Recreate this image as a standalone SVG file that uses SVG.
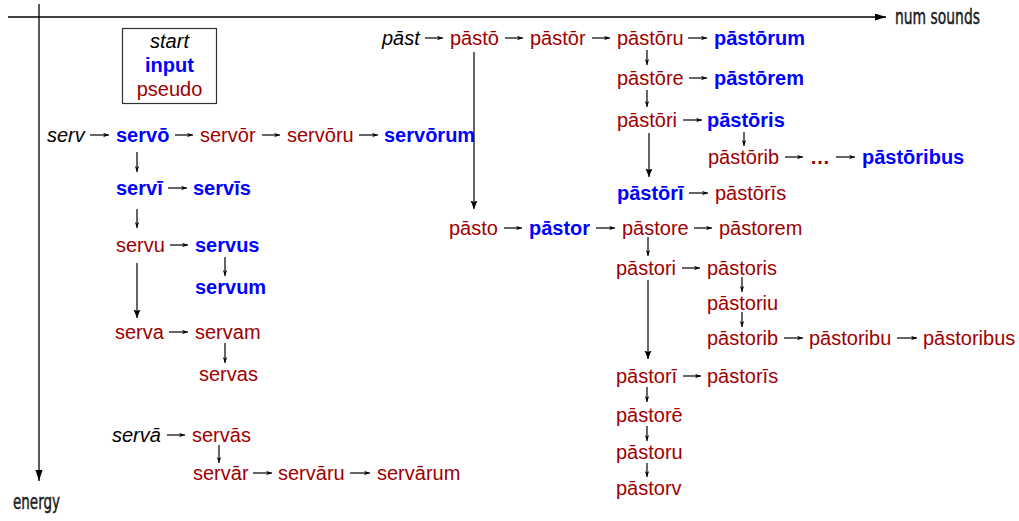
<svg xmlns="http://www.w3.org/2000/svg" width="1019" height="521" viewBox="0 0 1019 521">
<style>
text{font-family:"Liberation Sans",Arial,sans-serif;font-size:20px}
.s{font-style:italic;fill:#000}
.i{font-weight:bold;fill:#0000ff}
.p{fill:#a00000}
.bp{font-weight:bold;fill:#a00000}
.ax{font-family:"Liberation Sans Narrow","DejaVu Sans Condensed",sans-serif;font-size:22px;fill:#1a1a1a;stroke:#1a1a1a;stroke-width:0.45}
.c line{stroke:#000;stroke-width:1.2}
.h{marker-end:url(#sm)}
.v{marker-end:url(#sm)}
.lv{marker-end:url(#lg)}
</style>
<defs>
<marker id="sm" markerUnits="userSpaceOnUse" markerWidth="7" markerHeight="6" refX="6" refY="2.5" orient="auto"><path d="M0,0.3 L6,2.5 L0,4.7 L1.8,2.5 z" fill="#000"/></marker>
<marker id="lg" markerUnits="userSpaceOnUse" markerWidth="9" markerHeight="8" refX="8.5" refY="3.5" orient="auto"><path d="M0,0 L8.5,3.5 L0,7 L1.5,3.5 z" fill="#000"/></marker>
<marker id="axh" markerUnits="userSpaceOnUse" markerWidth="12" markerHeight="8" refX="11" refY="3.5" orient="auto"><path d="M0,0 L11,3.5 L0,7 z" fill="#000"/></marker>
</defs>
<g id="axes">
<line x1="8" y1="17" x2="886" y2="17" stroke="#000" stroke-width="1.3" marker-end="url(#axh)"/>
<line x1="39" y1="4" x2="39" y2="481" stroke="#000" stroke-width="1.3" marker-end="url(#axh)"/>
<text class="ax" x="895" y="24" textLength="85" lengthAdjust="spacingAndGlyphs">num sounds</text>
<text class="ax" x="13" y="509" textLength="47" lengthAdjust="spacingAndGlyphs">energy</text>
</g>
<g id="legend">
<rect x="122.5" y="28.5" width="94" height="75" fill="none" stroke="#333" stroke-width="1.2"/>
<text class="s" x="169.5" y="48" text-anchor="middle">start</text>
<text class="i" x="169.5" y="72" text-anchor="middle">input</text>
<text class="p" x="169.5" y="96" text-anchor="middle">pseudo</text>
</g>
<g class="c" id="connectors">
<line class="h" x1="90" y1="135" x2="109" y2="135"/>
<line class="h" x1="175" y1="135" x2="193" y2="135"/>
<line class="h" x1="262" y1="135" x2="280" y2="135"/>
<line class="h" x1="359" y1="135" x2="378" y2="135"/>
<line class="h" x1="168" y1="188" x2="187" y2="188"/>
<line class="h" x1="170" y1="245" x2="188" y2="245"/>
<line class="h" x1="169" y1="332" x2="188" y2="332"/>
<line class="h" x1="167" y1="435" x2="185" y2="435"/>
<line class="h" x1="253" y1="473" x2="272" y2="473"/>
<line class="h" x1="350" y1="473" x2="370" y2="473"/>
<line class="h" x1="425" y1="38" x2="443" y2="38"/>
<line class="h" x1="505" y1="38" x2="523" y2="38"/>
<line class="h" x1="592" y1="38" x2="610" y2="38"/>
<line class="h" x1="688" y1="38" x2="707" y2="38"/>
<line class="h" x1="689" y1="78" x2="707" y2="78"/>
<line class="h" x1="683" y1="120" x2="702" y2="120"/>
<line class="h" x1="785" y1="157" x2="803" y2="157"/>
<line class="h" x1="836" y1="157" x2="855" y2="157"/>
<line class="h" x1="689" y1="193" x2="708" y2="193"/>
<line class="h" x1="504" y1="228" x2="522" y2="228"/>
<line class="h" x1="596" y1="228" x2="615" y2="228"/>
<line class="h" x1="694" y1="228" x2="712" y2="228"/>
<line class="h" x1="682" y1="268" x2="700" y2="268"/>
<line class="h" x1="784" y1="338" x2="803" y2="338"/>
<line class="h" x1="897" y1="338" x2="917" y2="338"/>
<line class="h" x1="683" y1="376" x2="701" y2="376"/>
<line class="v" x1="137" y1="152" x2="137" y2="172"/>
<line class="v" x1="137" y1="209" x2="137" y2="228"/>
<line class="v" x1="225" y1="257" x2="225" y2="276"/>
<line class="lv" x1="137" y1="263" x2="137" y2="318"/>
<line class="v" x1="225" y1="343" x2="225" y2="363"/>
<line class="v" x1="219" y1="445" x2="219" y2="463"/>
<line class="lv" x1="474" y1="52" x2="474" y2="209"/>
<line class="v" x1="647" y1="50" x2="647" y2="65"/>
<line class="v" x1="647" y1="90" x2="647" y2="107"/>
<line class="lv" x1="649" y1="133" x2="649" y2="177"/>
<line class="v" x1="744" y1="132" x2="744" y2="146"/>
<line class="v" x1="648" y1="237" x2="648" y2="256"/>
<line class="lv" x1="648" y1="280" x2="648" y2="359"/>
<line class="v" x1="742" y1="277" x2="742" y2="292"/>
<line class="v" x1="742" y1="312" x2="742" y2="327"/>
<line class="v" x1="647" y1="387" x2="647" y2="402"/>
<line class="v" x1="647" y1="426" x2="647" y2="441"/>
<line class="v" x1="647" y1="463" x2="647" y2="477"/>
</g>
<g id="nodes" transform="translate(0,1.5)">
<g id="n-serv"><text class="s" x="47" y="140">serv</text></g>
<g id="n-servo"><text class="i" x="116" y="140">servō</text></g>
<g id="n-servor"><text class="p" x="200" y="140">servōr</text></g>
<g id="n-servoru"><text class="p" x="287" y="140">servōru</text></g>
<g id="n-servorum"><text class="i" x="384" y="140">servōrum</text></g>
<g id="n-servi"><text class="i" x="116" y="193">servī</text></g>
<g id="n-servis"><text class="i" x="193" y="193">servīs</text></g>
<g id="n-servu"><text class="p" x="116" y="250">servu</text></g>
<g id="n-servus"><text class="i" x="195" y="250">servus</text></g>
<g id="n-servum"><text class="i" x="195" y="292">servum</text></g>
<g id="n-serva"><text class="p" x="115" y="337">serva</text></g>
<g id="n-servam"><text class="p" x="195" y="337">servam</text></g>
<g id="n-servas"><text class="p" x="199" y="379">servas</text></g>
<g id="n-servaa"><text class="s" x="112" y="440">servā</text></g>
<g id="n-servaas"><text class="p" x="192" y="440">servās</text></g>
<g id="n-servaar"><text class="p" x="193" y="478">servār</text></g>
<g id="n-servaaru"><text class="p" x="278" y="478">servāru</text></g>
<g id="n-servaarum"><text class="p" x="377" y="478">servārum</text></g>
<g id="n-past"><text class="s" x="382" y="43.5">pāst</text></g>
<g id="n-pasto-long"><text class="p" x="450" y="43.5">pāstō</text></g>
<g id="n-pastor-long"><text class="p" x="530" y="43.5">pāstōr</text></g>
<g id="n-pastoru-long"><text class="p" x="617" y="43.5">pāstōru</text></g>
<g id="n-pastorum-long"><text class="i" x="714" y="43.5">pāstōrum</text></g>
<g id="n-pastore-long"><text class="p" x="617" y="83">pāstōre</text></g>
<g id="n-pastorem-long"><text class="i" x="714" y="83">pāstōrem</text></g>
<g id="n-pastori-long"><text class="p" x="617" y="125">pāstōri</text></g>
<g id="n-pastoris-long"><text class="i" x="707" y="125">pāstōris</text></g>
<g id="n-pastorib-long"><text class="p" x="708" y="162">pāstōrib</text></g>
<g id="n-ellipsis"><text class="bp" x="810" y="162">…</text></g>
<g id="n-pastoribus-long"><text class="i" x="862" y="162">pāstōribus</text></g>
<g id="n-pastorii-long"><text class="i" x="617" y="198">pāstōrī</text></g>
<g id="n-pastoriis-long"><text class="p" x="715" y="198">pāstōrīs</text></g>
<g id="n-pasto"><text class="p" x="449" y="233">pāsto</text></g>
<g id="n-pastor"><text class="i" x="529" y="233">pāstor</text></g>
<g id="n-pastore"><text class="p" x="622" y="233">pāstore</text></g>
<g id="n-pastorem"><text class="p" x="719" y="233">pāstorem</text></g>
<g id="n-pastori"><text class="p" x="616" y="273">pāstori</text></g>
<g id="n-pastoris"><text class="p" x="707" y="273">pāstoris</text></g>
<g id="n-pastoriu"><text class="p" x="707" y="308">pāstoriu</text></g>
<g id="n-pastorib"><text class="p" x="707" y="343">pāstorib</text></g>
<g id="n-pastoribu"><text class="p" x="809" y="343">pāstoribu</text></g>
<g id="n-pastoribus"><text class="p" x="923" y="343">pāstoribus</text></g>
<g id="n-pastorii"><text class="p" x="616" y="381">pāstorī</text></g>
<g id="n-pastoriis"><text class="p" x="707" y="381">pāstorīs</text></g>
<g id="n-pastoree"><text class="p" x="616" y="420">pāstorē</text></g>
<g id="n-pastoru"><text class="p" x="616" y="457">pāstoru</text></g>
<g id="n-pastorv"><text class="p" x="616" y="493">pāstorv</text></g>
</g>
</svg>
